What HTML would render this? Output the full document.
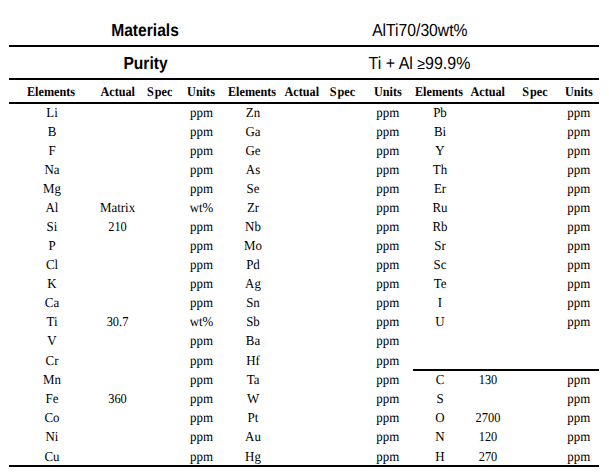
<!DOCTYPE html>
<html><head><meta charset="utf-8"><style>
html,body{margin:0;padding:0;background:#fff;width:609px;height:475px;overflow:hidden}
svg{display:block}
text{text-anchor:middle;fill:#000;text-rendering:geometricPrecision}
.tb{font-family:"Liberation Sans",sans-serif;font-weight:bold;font-size:16px}
.tr{font-family:"Liberation Sans",sans-serif;font-size:16px}
.h{font-family:"Liberation Serif",serif;font-weight:bold;font-size:12.2px}
.d{font-family:"Liberation Serif",serif;font-size:13.33px}
</style></head><body>
<svg width="609" height="475" viewBox="0 0 609 475">
<g fill="#000"><rect x="9" y="45" width="590" height="2"/><rect x="9" y="78" width="590" height="2"/><rect x="9" y="102" width="590" height="2"/><rect x="413" y="369" width="186" height="2"/><rect x="9" y="465" width="590" height="2"/></g>
<text transform="translate(145 36) scale(0.975 1.09)" class="tb">Materials</text><text transform="translate(419.8 36) scale(0.98 1.09)" class="tr">AlTi70/30wt%</text><text transform="translate(145.5 69) scale(0.975 1.09)" class="tb">Purity</text><text transform="translate(419.5 69) scale(1.0 1.09)" class="tr">Ti + Al <tspan style="font-size:14px">≥</tspan>99.9%</text><text transform="translate(51 96) scale(1.0 1.1)" class="h">Elements</text><text transform="translate(117.7 96) scale(1.0 1.1)" class="h">Actual</text><text transform="translate(159.7 96) scale(1.0 1.1)" class="h">S<tspan dx="1">pec</tspan></text><text transform="translate(201 96) scale(1.0 1.1)" class="h">Units</text><text transform="translate(252 96) scale(1.0 1.1)" class="h">Elements</text><text transform="translate(301.8 96) scale(1.0 1.1)" class="h">Actual</text><text transform="translate(342.5 96) scale(1.0 1.1)" class="h">S<tspan dx="1">pec</tspan></text><text transform="translate(387.9 96) scale(1.0 1.1)" class="h">Units</text><text transform="translate(439 96) scale(1.0 1.1)" class="h">Elements</text><text transform="translate(487.7 96) scale(1.0 1.1)" class="h">Actual</text><text transform="translate(535 96) scale(1.0 1.1)" class="h">S<tspan dx="1">pec</tspan></text><text transform="translate(578.9 96) scale(1.0 1.1)" class="h">Units</text><text transform="translate(52.0 117) scale(0.97 1.02)" class="d">Li</text><text transform="translate(201.5 117) scale(0.97 1.02)" class="d">ppm</text><text transform="translate(52.0 136) scale(0.97 1.02)" class="d">B</text><text transform="translate(201.5 136) scale(0.97 1.02)" class="d">ppm</text><text transform="translate(52.0 155) scale(0.97 1.02)" class="d">F</text><text transform="translate(201.5 155) scale(0.97 1.02)" class="d">ppm</text><text transform="translate(52.0 174) scale(0.97 1.02)" class="d">Na</text><text transform="translate(201.5 174) scale(0.97 1.02)" class="d">ppm</text><text transform="translate(52.0 193) scale(0.97 1.02)" class="d">Mg</text><text transform="translate(201.5 193) scale(0.97 1.02)" class="d">ppm</text><text transform="translate(52.0 212) scale(0.97 1.02)" class="d">Al</text><text transform="translate(117.5 212) scale(0.97 1.02)" class="d">Matrix</text><text transform="translate(201.5 212) scale(0.97 1.02)" class="d">wt%</text><text transform="translate(52.0 231) scale(0.97 1.02)" class="d">Si</text><text transform="translate(117.5 231) scale(0.93 1.02)" class="d">210</text><text transform="translate(201.5 231) scale(0.97 1.02)" class="d">ppm</text><text transform="translate(52.0 250) scale(0.97 1.02)" class="d">P</text><text transform="translate(201.5 250) scale(0.97 1.02)" class="d">ppm</text><text transform="translate(52.0 269) scale(0.97 1.02)" class="d">Cl</text><text transform="translate(201.5 269) scale(0.97 1.02)" class="d">ppm</text><text transform="translate(52.0 288) scale(0.97 1.02)" class="d">K</text><text transform="translate(201.5 288) scale(0.97 1.02)" class="d">ppm</text><text transform="translate(52.0 307) scale(0.97 1.02)" class="d">Ca</text><text transform="translate(201.5 307) scale(0.97 1.02)" class="d">ppm</text><text transform="translate(52.0 326) scale(0.97 1.02)" class="d">Ti</text><text transform="translate(117.5 326) scale(0.93 1.02)" class="d">30.7</text><text transform="translate(201.5 326) scale(0.97 1.02)" class="d">wt%</text><text transform="translate(52.0 345) scale(0.97 1.02)" class="d">V</text><text transform="translate(201.5 345) scale(0.97 1.02)" class="d">ppm</text><text transform="translate(52.0 365) scale(0.97 1.02)" class="d">Cr</text><text transform="translate(201.5 365) scale(0.97 1.02)" class="d">ppm</text><text transform="translate(52.0 384) scale(0.97 1.02)" class="d">Mn</text><text transform="translate(201.5 384) scale(0.97 1.02)" class="d">ppm</text><text transform="translate(52.0 403) scale(0.97 1.02)" class="d">Fe</text><text transform="translate(117.5 403) scale(0.93 1.02)" class="d">360</text><text transform="translate(201.5 403) scale(0.97 1.02)" class="d">ppm</text><text transform="translate(52.0 422) scale(0.97 1.02)" class="d">Co</text><text transform="translate(201.5 422) scale(0.97 1.02)" class="d">ppm</text><text transform="translate(52.0 441) scale(0.97 1.02)" class="d">Ni</text><text transform="translate(201.5 441) scale(0.97 1.02)" class="d">ppm</text><text transform="translate(52.0 461) scale(0.97 1.02)" class="d">Cu</text><text transform="translate(201.5 461) scale(0.97 1.02)" class="d">ppm</text><text transform="translate(253.0 117) scale(0.97 1.02)" class="d">Zn</text><text transform="translate(387.7 117) scale(0.97 1.02)" class="d">ppm</text><text transform="translate(253.0 136) scale(0.97 1.02)" class="d">Ga</text><text transform="translate(387.7 136) scale(0.97 1.02)" class="d">ppm</text><text transform="translate(253.0 155) scale(0.97 1.02)" class="d">Ge</text><text transform="translate(387.7 155) scale(0.97 1.02)" class="d">ppm</text><text transform="translate(253.0 174) scale(0.97 1.02)" class="d">As</text><text transform="translate(387.7 174) scale(0.97 1.02)" class="d">ppm</text><text transform="translate(253.0 193) scale(0.97 1.02)" class="d">Se</text><text transform="translate(387.7 193) scale(0.97 1.02)" class="d">ppm</text><text transform="translate(253.0 212) scale(0.97 1.02)" class="d">Zr</text><text transform="translate(387.7 212) scale(0.97 1.02)" class="d">ppm</text><text transform="translate(253.0 231) scale(0.97 1.02)" class="d">Nb</text><text transform="translate(387.7 231) scale(0.97 1.02)" class="d">ppm</text><text transform="translate(253.0 250) scale(0.97 1.02)" class="d">Mo</text><text transform="translate(387.7 250) scale(0.97 1.02)" class="d">ppm</text><text transform="translate(253.0 269) scale(0.97 1.02)" class="d">Pd</text><text transform="translate(387.7 269) scale(0.97 1.02)" class="d">ppm</text><text transform="translate(253.0 288) scale(0.97 1.02)" class="d">Ag</text><text transform="translate(387.7 288) scale(0.97 1.02)" class="d">ppm</text><text transform="translate(253.0 307) scale(0.97 1.02)" class="d">Sn</text><text transform="translate(387.7 307) scale(0.97 1.02)" class="d">ppm</text><text transform="translate(253.0 326) scale(0.97 1.02)" class="d">Sb</text><text transform="translate(387.7 326) scale(0.97 1.02)" class="d">ppm</text><text transform="translate(253.0 345) scale(0.97 1.02)" class="d">Ba</text><text transform="translate(387.7 345) scale(0.97 1.02)" class="d">ppm</text><text transform="translate(253.0 365) scale(0.97 1.02)" class="d">Hf</text><text transform="translate(387.7 365) scale(0.97 1.02)" class="d">ppm</text><text transform="translate(253.0 384) scale(0.97 1.02)" class="d">Ta</text><text transform="translate(387.7 384) scale(0.97 1.02)" class="d">ppm</text><text transform="translate(253.0 403) scale(0.97 1.02)" class="d">W</text><text transform="translate(387.7 403) scale(0.97 1.02)" class="d">ppm</text><text transform="translate(253.0 422) scale(0.97 1.02)" class="d">Pt</text><text transform="translate(387.7 422) scale(0.97 1.02)" class="d">ppm</text><text transform="translate(253.0 441) scale(0.97 1.02)" class="d">Au</text><text transform="translate(387.7 441) scale(0.97 1.02)" class="d">ppm</text><text transform="translate(253.0 461) scale(0.97 1.02)" class="d">Hg</text><text transform="translate(387.7 461) scale(0.97 1.02)" class="d">ppm</text><text transform="translate(440.0 117) scale(0.97 1.02)" class="d">Pb</text><text transform="translate(578.7 117) scale(0.97 1.02)" class="d">ppm</text><text transform="translate(440.0 136) scale(0.97 1.02)" class="d">Bi</text><text transform="translate(578.7 136) scale(0.97 1.02)" class="d">ppm</text><text transform="translate(440.0 155) scale(0.97 1.02)" class="d">Y</text><text transform="translate(578.7 155) scale(0.97 1.02)" class="d">ppm</text><text transform="translate(440.0 174) scale(0.97 1.02)" class="d">Th</text><text transform="translate(578.7 174) scale(0.97 1.02)" class="d">ppm</text><text transform="translate(440.0 193) scale(0.97 1.02)" class="d">Er</text><text transform="translate(578.7 193) scale(0.97 1.02)" class="d">ppm</text><text transform="translate(440.0 212) scale(0.97 1.02)" class="d">Ru</text><text transform="translate(578.7 212) scale(0.97 1.02)" class="d">ppm</text><text transform="translate(440.0 231) scale(0.97 1.02)" class="d">Rb</text><text transform="translate(578.7 231) scale(0.97 1.02)" class="d">ppm</text><text transform="translate(440.0 250) scale(0.97 1.02)" class="d">Sr</text><text transform="translate(578.7 250) scale(0.97 1.02)" class="d">ppm</text><text transform="translate(440.0 269) scale(0.97 1.02)" class="d">Sc</text><text transform="translate(578.7 269) scale(0.97 1.02)" class="d">ppm</text><text transform="translate(440.0 288) scale(0.97 1.02)" class="d">Te</text><text transform="translate(578.7 288) scale(0.97 1.02)" class="d">ppm</text><text transform="translate(440.0 307) scale(0.97 1.02)" class="d">I</text><text transform="translate(578.7 307) scale(0.97 1.02)" class="d">ppm</text><text transform="translate(440.0 326) scale(0.97 1.02)" class="d">U</text><text transform="translate(578.7 326) scale(0.97 1.02)" class="d">ppm</text><text transform="translate(440.0 384) scale(0.97 1.02)" class="d">C</text><text transform="translate(488.0 384) scale(0.93 1.02)" class="d">130</text><text transform="translate(578.7 384) scale(0.97 1.02)" class="d">ppm</text><text transform="translate(440.0 403) scale(0.97 1.02)" class="d">S</text><text transform="translate(578.7 403) scale(0.97 1.02)" class="d">ppm</text><text transform="translate(440.0 422) scale(0.97 1.02)" class="d">O</text><text transform="translate(488.0 422) scale(0.93 1.02)" class="d">2700</text><text transform="translate(578.7 422) scale(0.97 1.02)" class="d">ppm</text><text transform="translate(440.0 441) scale(0.97 1.02)" class="d">N</text><text transform="translate(488.0 441) scale(0.93 1.02)" class="d">120</text><text transform="translate(578.7 441) scale(0.97 1.02)" class="d">ppm</text><text transform="translate(440.0 461) scale(0.97 1.02)" class="d">H</text><text transform="translate(488.0 461) scale(0.93 1.02)" class="d">270</text><text transform="translate(578.7 461) scale(0.97 1.02)" class="d">ppm</text>
</svg>
</body></html>
